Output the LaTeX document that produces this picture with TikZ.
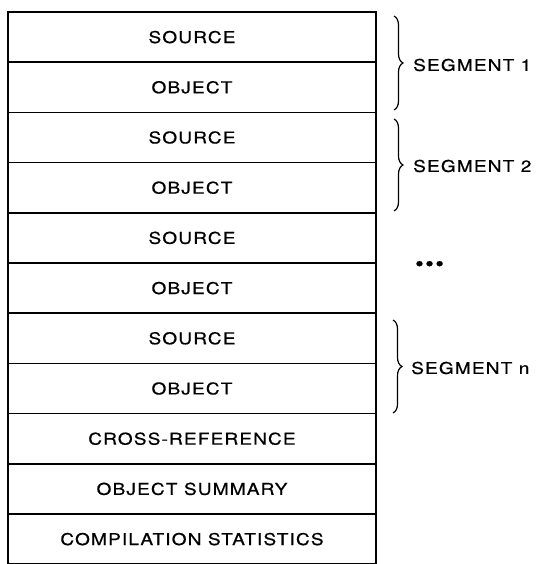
\documentclass[tikz,border=0pt]{standalone}
\usepackage{fontspec}
\setmainfont[LetterSpace=7,FakeStretch=1.17,FakeBold=0.6]{TeX Gyre Heros}
\usetikzlibrary{decorations.pathreplacing}
\begin{document}
\begin{tikzpicture}[x=1pt,y=-1pt,
  rowbox/.style={draw, line width=1.6pt, minimum width=368pt, minimum height=50.2pt,
    inner sep=0pt, outer sep=0pt, font=\fontsize{16.3}{18}\selectfont, anchor=north west},
  segbrace/.style={decorate, decoration={brace, amplitude=9pt}, line width=1.2pt},
  seglabel/.style={anchor=west, inner sep=0pt, font=\fontsize{16.3}{18}\selectfont}]
\useasboundingbox (0,0) rectangle (535,564);
\node[rowbox] (r1) at (8,12) {SOURCE};
\node[rowbox] (r2) at (r1.south west) {OBJECT};
\node[rowbox] (r3) at (r2.south west) {SOURCE};
\node[rowbox] (r4) at (r3.south west) {OBJECT};
\node[rowbox] (r5) at (r4.south west) {SOURCE};
\node[rowbox] (r6) at (r5.south west) {OBJECT};
\node[rowbox] (r7) at (r6.south west) {SOURCE};
\node[rowbox] (r8) at (r7.south west) {OBJECT};
\node[rowbox] (r9) at (r8.south west) {CROSS-REFERENCE};
\node[rowbox] (r10) at (r9.south west) {OBJECT SUMMARY};
\node[rowbox] (r11) at (r10.south west) {COMPILATION STATISTICS};
% braces
\coordinate (b1t) at (394,16);
\coordinate (b1b) at (394,110);
\coordinate (b2t) at (394,119);
\coordinate (b2b) at (394,211);
\coordinate (bnt) at (393,320);
\coordinate (bnb) at (393,413);
\draw[segbrace] (b1t) -- (b1b);
\draw[segbrace] (b2t) -- (b2b);
\draw[segbrace] (bnt) -- (bnb);
\node[seglabel] (s1) at (413,65) {SEGMENT 1};
\node[seglabel] (s2) at (413,166) {SEGMENT 2};
\node[seglabel] (sd) at (415,266) {\fontsize{21}{21}\selectfont •••};
\node[seglabel] (sn) at (411,368) {SEGMENT n};
\end{tikzpicture}
\end{document}
